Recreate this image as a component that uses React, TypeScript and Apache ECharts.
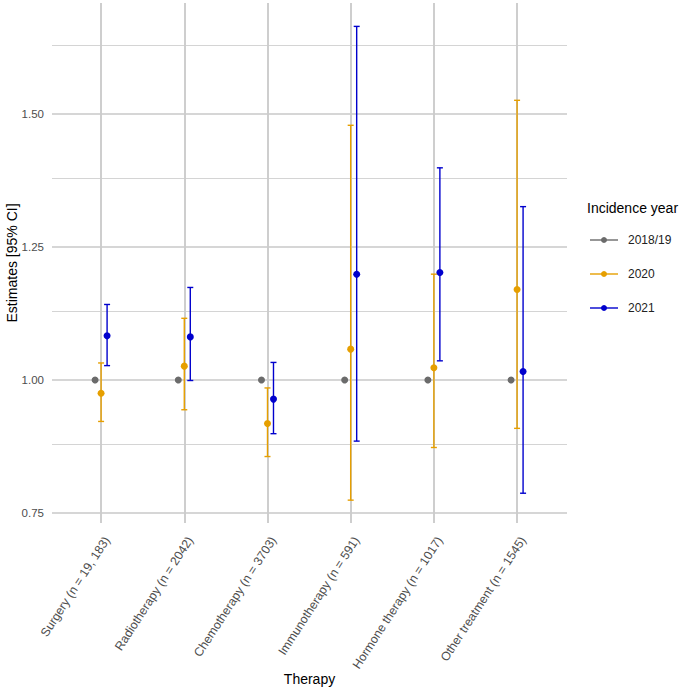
import React, { useEffect, useRef } from "react";
import * as echarts from "echarts";

// Therapy groups shown along the x axis
const therapies = [
  "Surgery (n = 19, 183)",
  "Radiotherapy (n = 2042)",
  "Chemotherapy (n = 3703)",
  "Immunotherapy (n = 591)",
  "Hormone therapy (n = 1017)",
  "Other treatment (n = 1545)",
];

// Incidence years (legend entries)
const years = ["2018/19", "2020", "2021"];

// Reference year: estimate fixed at 1 (no interval)
const est2018 = [1, 1, 1, 1, 1, 1];

// 2020 estimates and 95% CI
const est2020 = [0.975, 1.026, 0.918, 1.058, 1.023, 1.17];
const lo2020 = [0.922, 0.944, 0.856, 0.774, 0.873, 0.909];
const hi2020 = [1.032, 1.116, 0.985, 1.479, 1.199, 1.526];

// 2021 estimates and 95% CI
const est2021 = [1.083, 1.081, 0.964, 1.199, 1.202, 1.016];
const lo2021 = [1.027, 0.999, 0.899, 0.885, 1.036, 0.787];
const hi2021 = [1.142, 1.174, 1.033, 1.665, 1.399, 1.326];

// y axis labelled ticks and all gridline positions
const yTicks = [0.75, 1.0, 1.25, 1.5];
const yMinorGrid = [0.875, 1.125, 1.375, 1.625];

const colors = ["#6b6b6b", "#E69F00", "#0000CD"];
const dodgePx = [-6, 0, 6];

const FONT = "'Liberation Sans', Arial, Helvetica, sans-serif";

function errorSeries(
  name: string,
  color: string,
  offset: number,
  est: number[],
  lo: number[] | null,
  hi: number[] | null
) {
  const data = est.map((v, i) => [i, v, lo ? lo[i] : v, hi ? hi[i] : v]);
  return {
    type: "custom",
    name,
    data,
    z: 5,
    renderItem: (params: any, api: any) => {
      const i = api.value(0);
      const p = api.coord([i, api.value(1)]);
      const pl = api.coord([i, api.value(2)]);
      const ph = api.coord([i, api.value(3)]);
      const x = p[0] + offset;
      const children: any[] = [];
      if (lo && hi) {
        const lineStyle = { stroke: color, lineWidth: 1.4 };
        children.push(
          { type: "line", shape: { x1: x, y1: pl[1], x2: x, y2: ph[1] }, style: lineStyle },
          { type: "line", shape: { x1: x - 3, y1: pl[1], x2: x + 3, y2: pl[1] }, style: lineStyle },
          { type: "line", shape: { x1: x - 3, y1: ph[1], x2: x + 3, y2: ph[1] }, style: lineStyle }
        );
      }
      children.push({
        type: "circle",
        shape: { cx: x, cy: p[1], r: 3.5 },
        style: { fill: color },
      });
      return { type: "group", children };
    },
  };
}

export default function App() {
  const ref = useRef<HTMLDivElement>(null);

  useEffect(() => {
    if (!ref.current) return;
    const chart = echarts.init(ref.current, undefined, { renderer: "svg" });

    const gridLine = (v: number, major: boolean) => ({
      yAxis: v,
      lineStyle: { color: major ? "#c8c8c8" : "#d4d4d4", width: major ? 1.7 : 1.2, type: "solid" },
    });
    const vLine = (i: number) => ({
      xAxis: i,
      lineStyle: { color: "#cccccc", width: 1.9, type: "solid" },
    });

    // legend drawn as graphic: line with a dot, then label
    const legendGraphics: any[] = [
      {
        type: "text",
        left: 587,
        top: 201,
        style: { text: "Incidence year", font: `14px ${FONT}`, fill: "#000" },
      },
    ];
    years.forEach((y, k) => {
      const cy = 240 + k * 34;
      legendGraphics.push(
        { type: "line", shape: { x1: 590, y1: cy, x2: 618, y2: cy }, style: { stroke: colors[k], lineWidth: 1.4 } },
        { type: "circle", shape: { cx: 604, cy, r: 3 }, style: { fill: colors[k] } },
        {
          type: "text",
          x: 628,
          y: cy,
          style: { text: y, font: `12px ${FONT}`, fill: "#222", verticalAlign: "middle" },
        }
      );
    });

    chart.setOption({
      animation: false,
      backgroundColor: "#ffffff",
      grid: {
        left: 52,
        right: 118,
        top: 3,
        bottom: 168,
        containLabel: false,
        outerBoundsMode: "none",
      },
      xAxis: {
        type: "value",
        min: -0.59,
        max: 5.6,
        name: "Therapy",
        nameLocation: "middle",
        nameGap: 149,
        nameMoveOverlap: false,
        nameTextStyle: { fontFamily: FONT, fontSize: 14, color: "#000" },
        axisLine: { show: false },
        axisTick: { show: false },
        splitLine: { show: false },
        axisLabel: {
          customValues: [0, 1, 2, 3, 4, 5],
          formatter: (v: number) => therapies[Math.round(v)] ?? "",
          rotate: 57,
          margin: 24,
          padding: [0, -11, 0, 0],
          fontFamily: FONT,
          fontSize: 12.3,
          color: "#4d4d4d",
        },
      },
      yAxis: {
        type: "value",
        min: 0.731,
        max: 1.709,
        name: "Estimates [95% CI]",
        nameLocation: "middle",
        nameGap: 33,
        nameMoveOverlap: false,
        nameTextStyle: { fontFamily: FONT, fontSize: 14, color: "#000" },
        axisLine: { show: false },
        axisTick: { show: false },
        splitLine: { show: false },
        axisLabel: {
          customValues: yTicks,
          formatter: (v: number) => v.toFixed(2),
          margin: 8,
          fontFamily: FONT,
          fontSize: 11.5,
          color: "#4d4d4d",
        },
      },
      graphic: legendGraphics,
      series: [
        {
          type: "line",
          data: [],
          silent: true,
          z: 1,
          markLine: {
            silent: true,
            symbol: "none",
            label: { show: false },
            data: [
              ...yMinorGrid.map((v) => gridLine(v, false)),
              ...yTicks.map((v) => gridLine(v, true)),
              ...therapies.map((_, i) => vLine(i)),
            ],
          },
        },
        errorSeries(years[0], colors[0], dodgePx[0], est2018, null, null),
        errorSeries(years[1], colors[1], dodgePx[1], est2020, lo2020, hi2020),
        errorSeries(years[2], colors[2], dodgePx[2], est2021, lo2021, hi2021),
      ],
    });

    return () => chart.dispose();
  }, []);

  return (
    <div
      ref={ref}
      style={{ position: "fixed", left: 0, top: 0, width: 685, height: 691 }}
    />
  );
}
